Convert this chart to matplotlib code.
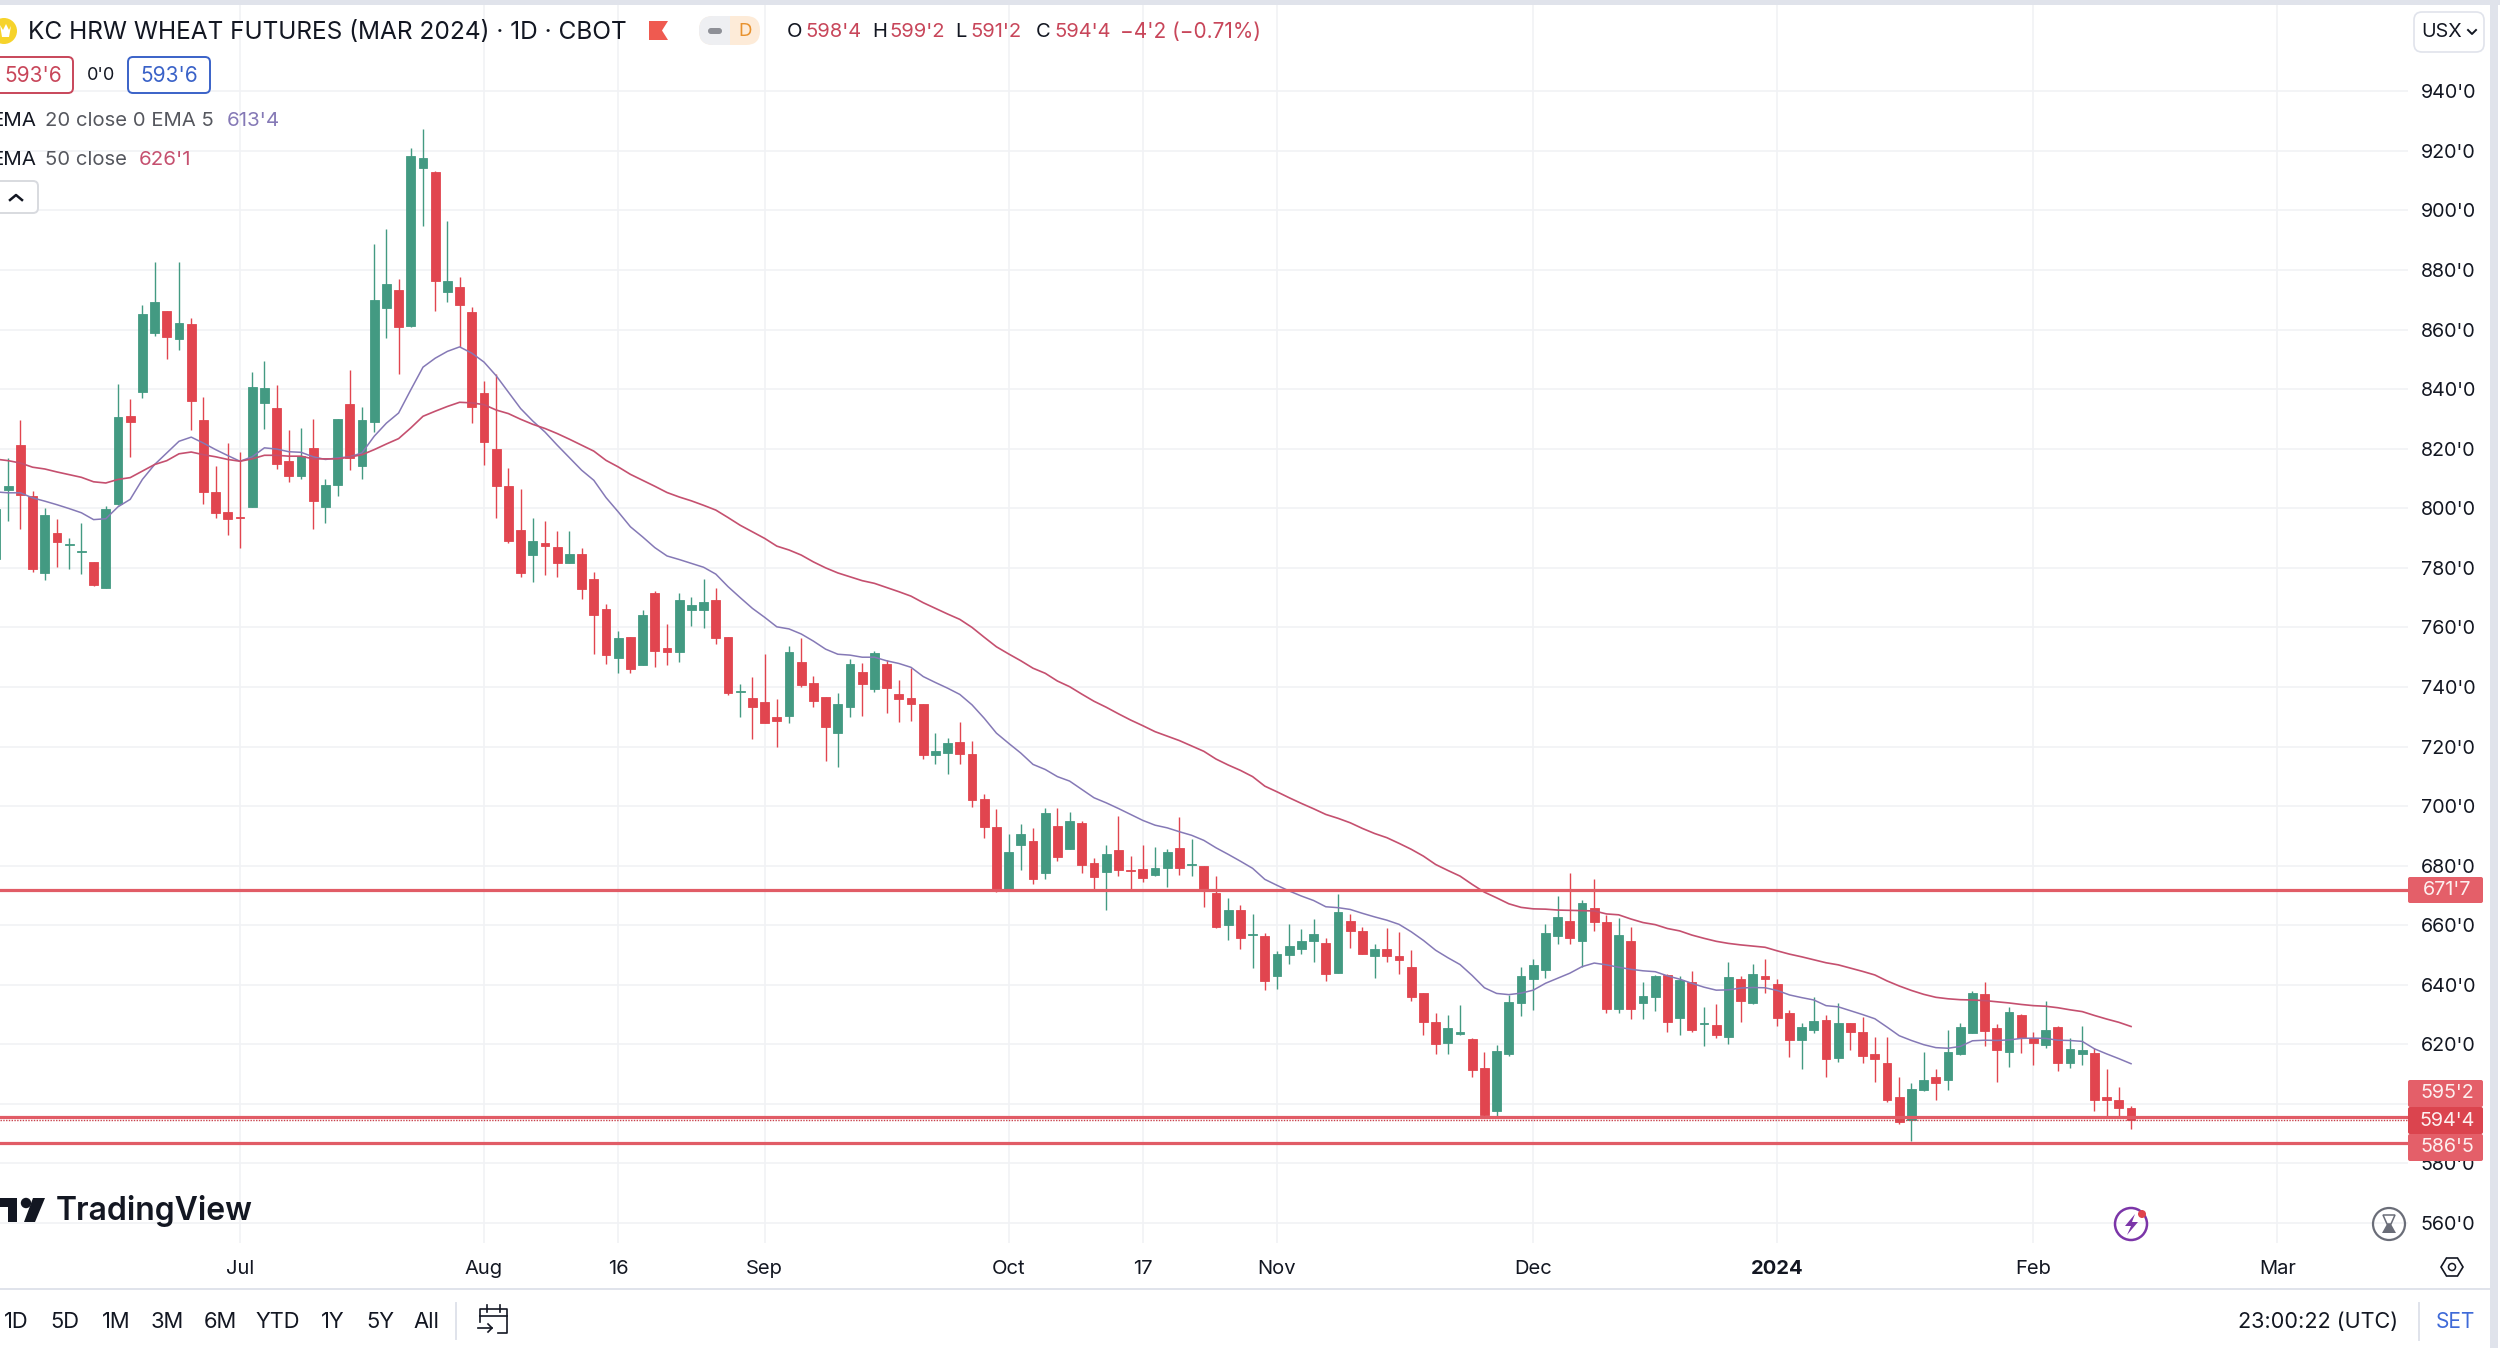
import matplotlib
matplotlib.use("Agg")
import matplotlib.pyplot as plt
from matplotlib.patches import FancyBboxPatch, Rectangle, Polygon, Circle

plt.rcParams['font.family'] = ['Inter', 'Roboto', 'DejaVu Sans']

# daily candles
opens = [782.9, 806.1, 821.4, 804.1, 778.4, 791.6, 787.8, 785.2, 782.0, 773.4,
         801.3, 830.9, 839.2, 859.0, 866.2, 856.8, 861.9, 829.5, 805.5, 798.8,
         797.0, 800.4, 835.4, 833.8, 815.9, 811.0, 820.4, 800.3, 807.7, 834.9,
         814.1, 829.0, 867.4, 873.3, 861.3, 914.1, 912.9, 872.5, 874.4, 865.8,
         838.6, 820.0, 807.5, 792.8, 784.2, 788.3, 787.0, 781.7, 784.8, 776.1,
         766.2, 749.6, 756.9, 747.4, 771.4, 753.0, 751.9, 766.0, 766.0, 769.2,
         756.9, 738.4, 736.2, 735.1, 729.8, 730.3, 748.3, 741.3, 736.8, 724.5,
         733.2, 745.0, 739.4, 747.6, 737.7, 736.2, 734.2, 717.0, 717.8, 721.5,
         717.5, 702.3, 693.1, 672.2, 686.8, 688.3, 677.4, 693.4, 685.7, 694.4,
         681.0, 678.0, 685.1, 678.7, 679.0, 677.0, 679.2, 686.0, 680.1, 679.9,
         670.8, 660.0, 665.2, 656.6, 656.3, 643.1, 649.9, 651.9, 654.7, 653.9,
         644.0, 661.4, 657.9, 649.8, 652.1, 649.6, 645.9, 637.1, 627.4, 620.4,
         623.6, 621.8, 612.1, 597.5, 616.9, 634.0, 642.0, 645.0, 656.4, 661.3,
         654.8, 665.8, 661.0, 632.0, 654.8, 633.9, 635.8, 643.2, 629.0, 641.1,
         626.7, 626.5, 622.6, 642.0, 634.0, 642.9, 640.4, 630.4, 621.3, 624.7,
         628.1, 615.4, 627.1, 624.2, 616.7, 613.9, 602.3, 594.7, 604.8, 609.1,
         607.9, 616.8, 623.8, 637.0, 625.5, 617.4, 629.8, 622.0, 619.7, 625.9,
         613.9, 616.8, 617.0, 602.2, 601.3, 598.5]
highs = [799.6, 816.9, 829.8, 805.7, 800.2, 796.5, 790.1, 794.9, 782.0, 800.9,
         841.8, 836.8, 868.1, 882.7, 866.4, 882.7, 864.0, 837.3, 814.1, 821.9,
         818.9, 845.9, 849.6, 841.4, 826.4, 827.0, 830.1, 809.9, 830.0, 846.5,
         834.0, 888.6, 893.7, 876.9, 921.0, 927.4, 913.2, 896.6, 877.8, 867.7,
         842.6, 845.2, 813.6, 806.5, 796.6, 795.8, 792.4, 792.4, 786.8, 778.5,
         768.0, 758.8, 756.9, 766.0, 772.2, 761.0, 771.4, 770.3, 776.1, 773.4,
         756.9, 741.0, 743.5, 751.0, 736.0, 753.9, 756.5, 743.7, 736.8, 737.9,
         749.4, 748.2, 752.2, 749.0, 742.3, 746.5, 734.2, 724.5, 722.8, 728.2,
         722.0, 704.2, 698.9, 690.7, 694.1, 692.7, 699.5, 699.5, 698.1, 695.0,
         682.7, 687.1, 696.7, 683.2, 687.1, 686.4, 685.7, 696.3, 688.8, 680.0,
         676.5, 669.2, 666.8, 663.8, 657.5, 651.3, 660.5, 658.6, 662.2, 655.8,
         670.6, 663.9, 659.4, 653.8, 659.1, 657.7, 651.7, 637.1, 630.6, 630.0,
         633.2, 622.2, 617.5, 619.7, 636.7, 646.1, 648.7, 660.4, 669.8, 677.4,
         668.5, 675.5, 663.4, 662.3, 659.3, 640.9, 643.3, 643.5, 643.0, 644.8,
         632.7, 633.6, 647.5, 642.8, 646.9, 648.6, 642.0, 631.6, 627.3, 635.8,
         629.7, 633.8, 627.1, 629.1, 622.6, 622.6, 609.0, 607.0, 617.3, 611.7,
         624.7, 627.3, 638.0, 641.0, 626.9, 632.7, 630.1, 624.3, 634.6, 626.0,
         622.3, 626.0, 618.7, 611.8, 605.6, 599.2]
lows = [782.9, 795.7, 792.9, 778.6, 775.8, 780.4, 779.7, 778.0, 773.9, 773.4,
        801.0, 817.1, 837.0, 857.9, 850.1, 853.0, 826.2, 801.6, 796.6, 791.2,
        786.8, 800.4, 826.6, 813.2, 808.9, 810.0, 793.1, 794.9, 804.0, 812.8,
        809.7, 825.7, 857.1, 845.2, 861.0, 894.9, 866.1, 869.2, 854.3, 828.7,
        814.5, 796.6, 788.4, 776.8, 775.2, 777.7, 776.8, 781.7, 769.7, 751.0,
        747.7, 744.8, 744.6, 747.4, 746.8, 747.4, 748.5, 760.5, 759.7, 754.6,
        737.3, 729.8, 722.6, 727.8, 719.7, 727.8, 739.9, 733.2, 715.3, 713.0,
        730.0, 730.3, 738.4, 731.2, 728.1, 728.7, 715.7, 714.1, 710.7, 714.0,
        699.7, 689.4, 671.1, 672.2, 678.5, 673.7, 675.4, 681.5, 685.7, 677.4,
        672.2, 665.1, 676.5, 672.2, 674.5, 676.7, 672.8, 676.8, 676.5, 666.2,
        659.1, 655.0, 652.1, 645.5, 638.4, 638.6, 647.0, 650.2, 647.7, 641.2,
        643.8, 652.2, 650.2, 642.3, 647.6, 643.5, 634.7, 623.3, 616.7, 616.9,
        623.3, 609.0, 595.3, 595.3, 616.0, 629.4, 631.4, 642.2, 653.7, 653.7,
        646.1, 658.1, 630.5, 630.5, 628.5, 628.5, 631.3, 624.0, 623.2, 624.0,
        619.5, 622.1, 620.2, 627.5, 633.5, 637.4, 626.3, 615.7, 611.7, 623.8,
        609.2, 614.2, 618.2, 613.7, 607.2, 600.5, 593.3, 587.4, 604.2, 601.2,
        604.8, 616.4, 623.8, 619.3, 607.3, 612.3, 617.1, 613.1, 618.7, 610.9,
        612.0, 613.1, 597.5, 595.3, 595.3, 591.5]
closes = [799.6, 807.4, 804.6, 779.5, 797.9, 788.7, 788.1, 785.6, 774.1, 799.8,
          830.7, 829.0, 865.4, 869.4, 857.6, 862.2, 835.9, 805.4, 798.5, 796.3,
          796.6, 840.7, 840.3, 815.0, 810.8, 817.5, 802.5, 807.7, 830.0, 816.9,
          829.8, 869.9, 875.2, 861.0, 918.2, 917.5, 876.3, 876.2, 868.3, 833.9,
          822.3, 807.4, 789.0, 778.3, 789.1, 787.5, 781.5, 784.8, 773.0, 764.3,
          750.6, 756.3, 746.0, 764.1, 752.1, 751.9, 769.2, 767.5, 768.6, 756.4,
          737.9, 738.8, 733.4, 727.8, 728.6, 751.7, 740.7, 735.4, 726.7, 734.3,
          747.7, 741.0, 751.3, 739.6, 736.1, 734.3, 717.0, 718.4, 721.1, 717.5,
          702.1, 693.0, 672.2, 684.6, 690.6, 675.4, 697.8, 682.9, 695.0, 680.1,
          676.2, 684.0, 678.5, 678.3, 675.8, 679.2, 684.5, 679.3, 680.5, 672.0,
          659.5, 665.2, 655.8, 657.0, 641.2, 650.4, 652.9, 654.8, 656.9, 643.5,
          664.6, 658.2, 650.5, 652.1, 649.6, 648.3, 635.9, 627.4, 620.2, 625.5,
          624.2, 611.5, 596.4, 617.7, 634.3, 642.8, 646.6, 657.5, 662.6, 655.8,
          667.6, 661.0, 632.0, 656.7, 631.8, 636.4, 642.8, 627.6, 641.5, 624.9,
          627.1, 623.0, 642.7, 634.7, 643.5, 642.0, 628.9, 621.3, 625.8, 627.8,
          615.2, 627.1, 624.2, 616.0, 615.0, 601.2, 593.8, 605.1, 608.1, 606.9,
          617.5, 625.8, 637.1, 624.5, 618.2, 630.8, 622.0, 620.6, 624.9, 613.9,
          618.4, 618.2, 601.2, 601.4, 598.6, 594.7]

ema20 = [805.5, 805.2, 805.2, 803.5, 802.4, 801.2, 799.9, 798.5, 796.2, 796.5,
         800.5, 803.0, 809.7, 814.7, 818.6, 822.5, 823.9, 821.9, 819.7, 817.7,
         815.8, 817.3, 820.3, 819.9, 819.0, 818.8, 817.3, 816.4, 816.9, 817.3,
         818.6, 824.2, 828.6, 832.0, 839.8, 847.4, 850.4, 852.7, 854.2, 852.1,
         849.1, 844.5, 839.0, 833.5, 829.3, 825.6, 821.2, 817.0, 812.8, 809.4,
         803.6, 798.8, 793.8, 790.4, 786.8, 784.0, 782.8, 781.5, 780.2, 777.9,
         773.7, 770.0, 766.4, 763.4, 760.2, 759.5, 757.8, 755.4, 752.7, 751.0,
         750.7, 750.0, 750.0, 748.8, 747.9, 746.6, 743.5, 741.5, 739.6, 737.5,
         734.0, 729.5, 724.5, 721.1, 717.8, 714.0, 712.3, 709.9, 708.4, 705.6,
         702.8, 701.1, 699.2, 697.2, 695.2, 693.6, 692.7, 691.4, 690.2, 688.5,
         686.0, 683.8, 681.5, 679.1, 675.4, 673.4, 671.5, 669.8, 668.3, 666.2,
         665.9, 665.3, 664.0, 662.8, 661.7, 660.3, 657.8, 654.9, 651.6, 649.1,
         646.8, 643.1, 639.0, 637.1, 636.7, 637.2, 638.2, 640.5, 642.2, 643.9,
         646.1, 647.3, 646.7, 645.9, 645.2, 644.7, 644.4, 643.0, 641.9, 640.5,
         639.2, 638.2, 638.3, 638.9, 639.1, 639.0, 638.1, 636.6, 635.7, 634.9,
         633.0, 632.6, 631.3, 630.0, 628.6, 625.8, 622.9, 621.3, 619.9, 618.9,
         618.7, 619.3, 621.2, 621.4, 621.3, 621.5, 622.0, 622.1, 622.0, 621.4,
         621.3, 621.0, 618.5, 616.8, 615.2, 613.5]
ema50 = [816.5, 816.0, 815.2, 813.8, 813.2, 812.2, 811.3, 810.4, 808.9, 808.5,
         809.7, 810.3, 812.5, 814.7, 816.0, 818.3, 818.9, 818.0, 817.3, 816.4,
         815.8, 816.6, 817.8, 817.8, 817.5, 817.5, 816.6, 816.6, 816.6, 817.2,
         818.0, 819.7, 821.6, 823.4, 827.0, 830.9, 832.6, 834.2, 835.6, 835.4,
         834.8, 833.0, 831.8, 829.9, 828.2, 826.8, 825.1, 823.2, 821.2, 819.2,
         816.1, 813.9, 811.4, 809.4, 807.4, 805.3, 803.8, 802.5, 801.0, 799.4,
         796.9, 794.3, 792.1, 789.9, 787.3, 786.0, 784.3, 782.0, 780.0, 778.3,
         777.0, 775.7, 774.8, 773.4, 772.0, 770.5, 768.3, 766.4, 764.5, 762.7,
         760.0, 756.7, 753.5, 751.1, 748.8, 746.3, 744.6, 742.0, 740.1, 737.6,
         735.2, 733.2, 731.0, 728.9, 727.0, 725.0, 723.5, 722.0, 720.2, 718.4,
         715.8, 713.8, 712.0, 709.9, 706.7, 704.8, 702.8, 700.9, 699.1, 697.2,
         695.9, 694.4, 692.5, 690.8, 689.4, 687.5, 685.5, 683.2, 680.4, 678.4,
         676.5, 673.7, 671.1, 669.2, 667.2, 666.0, 665.5, 665.4, 665.1, 665.0,
         664.9, 664.8, 663.8, 663.5, 662.1, 660.9, 660.2, 658.9, 658.1, 656.7,
         655.6, 654.6, 653.9, 653.4, 653.0, 652.6, 651.4, 650.3, 649.4, 648.4,
         647.4, 646.7, 645.6, 644.5, 643.3, 641.3, 639.6, 638.1, 636.8, 635.8,
         635.3, 635.0, 634.9, 634.7, 634.3, 633.9, 633.4, 633.0, 632.8, 632.3,
         631.6, 631.0, 629.7, 628.5, 627.4, 626.0]

price_ticks = [560, 580, 600, 620, 640, 660, 680, 700, 720, 740, 760, 780, 800,
               820, 840, 860, 880, 900, 920, 940]
date_ticks = [20, 40, 51, 63, 83, 94, 105, 126, 146, 167, 187]
date_labels = ['Jul', 'Aug', '16', 'Sep', 'Oct', '17', 'Nov', 'Dec', '2024', 'Feb', 'Mar']
level_lines = [671.9, 595.5, 586.9]
last_price = 594.5
range_buttons = ['1D', '5D', '1M', '3M', '6M', 'YTD', '1Y', '5Y', 'All']
range_button_x = [16, 65, 116, 167, 220, 278, 333, 380, 426]

GREEN = '#439A82'
RED = '#E1454F'
PURPLE = '#8579B6'
MAGENTA = '#C5506F'
LINE_RED = '#E15C66'
GRID = '#F1F2F5'
INK = '#131722'
BORDER = '#E0E3EB'

fig = plt.figure(figsize=(25, 13.48), dpi=100, facecolor='white')

ax = fig.add_axes([0, 105 / 1348, 2408 / 2500, 1238 / 1348])
days = list(range(len(opens)))
ax.vlines(days, lows, highs, colors=[GREEN if c >= o else RED for o, c in zip(opens, closes)],
          linewidth=1.0, zorder=3)
ax.bar(days, [abs(c - o) for o, c in zip(opens, closes)],
       bottom=[min(o, c) for o, c in zip(opens, closes)], width=0.72,
       color=[GREEN if c >= o else RED for o, c in zip(opens, closes)],
       edgecolor=[GREEN if c >= o else RED for o, c in zip(opens, closes)],
       linewidth=0.6, zorder=3)
ax.plot(days, ema20, color=PURPLE, linewidth=1.1, zorder=4)
ax.plot(days, ema50, color=MAGENTA, linewidth=1.2, zorder=4)
for level in level_lines:
    ax.axhline(level, color=LINE_RED, linewidth=2.3, zorder=5)
ax.axhline(last_price, color='#C8424C', linewidth=1.0, linestyle=(0, (1, 1)), zorder=5)

ax.set_xlim(0.328, 197.7)
ax.set_ylim(553.3, 969.0)
ax.set_yticks(price_ticks)
ax.set_yticklabels(["%d'0" % p for p in price_ticks])
ax.set_xticks(date_ticks)
ax.set_xticklabels(date_labels)
ax.yaxis.tick_right()
ax.tick_params(axis='y', length=0, pad=9, labelsize=14.2, labelcolor=INK)
ax.tick_params(axis='x', length=0, pad=12.5, labelsize=14.5, labelcolor=INK)
ax.get_xticklabels()[8].set_fontweight('bold')
ax.grid(True, color=GRID, linewidth=1.2)
ax.set_axisbelow(True)
for spine in ax.spines.values():
    spine.set_visible(False)

# screen furniture, in picture pixels
ui = fig.add_axes([0, 0, 1, 1], zorder=10)
ui.set_xlim(0, 2500)
ui.set_ylim(1348, 0)
ui.axis('off')
ui.patch.set_alpha(0)


def label(x, y, s, size=13.5, color=INK, ha='left', **kw):
    ui.text(x, y, s, fontsize=size, color=color, ha=ha, va='center', **kw)


def box(x0, y0, x1, y1, radius=4, face='white', edge='none', lw=1.2):
    ui.add_patch(FancyBboxPatch((x0, y0), x1 - x0, y1 - y0, boxstyle='round,pad=0,rounding_size=%g' % radius,
                                facecolor=face, edgecolor=edge, linewidth=lw))


ui.add_patch(Rectangle((0, 0), 2500, 5, color=BORDER, lw=0))
ui.add_patch(Rectangle((2490, 0), 8, 1348, color=BORDER, lw=0))
ui.plot([0, 2490], [1289, 1289], color=BORDER, linewidth=1.4)

# symbol row
ui.add_patch(Circle((4, 31), 13, color='#F6D32B', lw=0))
ui.add_patch(Polygon([(0, 25), (3, 30), (6, 24), (9, 30), (11, 26), (9, 37), (2, 37)], color='white', lw=0))
label(28, 32, 'KC HRW WHEAT FUTURES (MAR 2024) · 1D · CBOT', size=17.6)
ui.add_patch(Polygon([(649, 21), (668, 21), (662, 30.5), (668, 40), (649, 40)], color='#EF5A50', lw=0))
box(699, 16, 760, 45, radius=14, face='#FDEBD8')
box(699, 16, 730, 45, radius=14, face='#EEEFF2')
ui.add_patch(Rectangle((715, 16), 15, 29, color='#EEEFF2', lw=0))
box(708, 28, 722, 34, radius=3, face='#8E9097')
label(745, 31, 'D', size=13.5, color='#E8922E', ha='center')

OHLC_RED = '#C8465A'
for x, s in [(787, 'O'), (872, 'H'), (955, 'L'), (1036, 'C')]:
    label(x, 32, s, size=14.5)
for x, s in [(805, "598'4"), (889, "599'2"), (970, "591'2"), (1054, "594'4")]:
    label(x, 32, s, size=14.5, color=OHLC_RED)
label(1120, 32, "−4'2 (−0.71%)", size=15, color=OHLC_RED)

# bid / ask
box(-10, 57, 73, 93, radius=5, edge=OHLC_RED, lw=1.4)
label(33, 76, "593'6", size=15, color=OHLC_RED, ha='center')
label(101, 76, "0'0", size=13, ha='center')
box(128, 57, 210, 93, radius=5, edge='#3A62C8', lw=1.4)
label(169, 76, "593'6", size=15, color='#3A62C8', ha='center')

# indicators
label(36, 121, 'EMA', size=14.8, ha='right')
label(45, 121, '20 close 0 EMA 5', size=14.6, color='#55575E')
label(227, 121, "613'4", size=14.8, color=PURPLE)
label(36, 160, 'EMA', size=14.8, ha='right')
label(45, 160, '50 close', size=14.6, color='#55575E')
label(139, 160, "626'1", size=14.8, color=MAGENTA)
box(-10, 181, 38, 213, radius=5, edge='#D8DADF', lw=1.4)
ui.plot([10, 16, 22], [200, 195, 200], color=INK, linewidth=1.8)

# USX dropdown
box(2414, 12, 2484, 52, radius=8, edge=BORDER, lw=1.2)
label(2421, 32, 'USX', size=14.2)
ui.plot([2468, 2472, 2476], [30, 34, 30], color=INK, linewidth=1.4)

# level tags
for y0, y1, s, face in [(877, 903, "671'7", '#E45F69'), (1080, 1107, "595'2", '#E45F69'),
                        (1134, 1161, "586'5", '#E45F69'), (1107, 1134, "594'4", '#DB444E')]:
    box(2408, y0, 2483, y1, radius=2, face=face)
    label(2447, (y0 + y1) / 2, s, size=14.2, color='#FDEFEF', ha='center')

# logo
ui.add_patch(Polygon([(0, 1198), (17, 1198), (17, 1222), (8, 1222), (8, 1207), (0, 1207)], color=INK, lw=0))
ui.add_patch(Circle((26, 1203), 5.2, color=INK, lw=0))
ui.add_patch(Polygon([(33, 1198), (45, 1198), (35, 1222), (24, 1222)], color=INK, lw=0))
label(56, 1211, 'TradingView', size=23, fontweight='semibold')

# icons in the pane
ui.add_patch(Circle((2131, 1224), 16, fill=False, edgecolor='#7B35A8', linewidth=1.8))
ui.add_patch(Polygon([(2135, 1214), (2125, 1226), (2131, 1226), (2127, 1235), (2138, 1222), (2132, 1222)],
                     color='#7B35A8', lw=0))
ui.add_patch(Circle((2142, 1214), 4, color='#E0434D', lw=0))
ui.add_patch(Circle((2389, 1224), 16, fill=False, edgecolor='#6A6D78', linewidth=1.6))
ui.add_patch(Polygon([(2383, 1215), (2395, 1215), (2391, 1224), (2387, 1224)],
                     fill=False, edgecolor='#6A6D78', linewidth=1.1))
ui.add_patch(Polygon([(2387, 1224), (2391, 1224), (2396, 1233), (2382, 1233)], color='#6A6D78', lw=0))
ui.add_patch(Polygon([(2441, 1267), (2446.5, 1258), (2457.5, 1258), (2463, 1267), (2457.5, 1276), (2446.5, 1276)],
                     fill=False, edgecolor=INK, linewidth=1.2))
ui.add_patch(Circle((2452, 1267), 3.5, fill=False, edgecolor=INK, linewidth=1.1))

# bottom bar
for x, s in zip(range_button_x, range_buttons):
    label(x, 1322, s, size=15.8, ha='center')
ui.plot([456, 456], [1303, 1339], color=BORDER, linewidth=1.4)
ui.plot([480, 480, 507, 507, 498], [1322, 1309, 1309, 1333, 1333], color=INK, linewidth=1.2)
ui.plot([480, 507], [1316, 1316], color=INK, linewidth=1.2)
ui.plot([487, 487], [1305, 1312], color=INK, linewidth=1.2)
ui.plot([500, 500], [1305, 1312], color=INK, linewidth=1.2)
ui.plot([478, 492], [1328, 1328], color=INK, linewidth=1.2)
ui.plot([488, 492, 488], [1324, 1328, 1332], color=INK, linewidth=1.2)
label(2238, 1322, '23:00:22 (UTC)', size=15.6)
ui.plot([2419, 2419], [1303, 1340], color=BORDER, linewidth=1.4)
label(2436, 1322, 'SET', size=15, color='#3F6AD8')

fig.savefig('out.png', dpi=100)
